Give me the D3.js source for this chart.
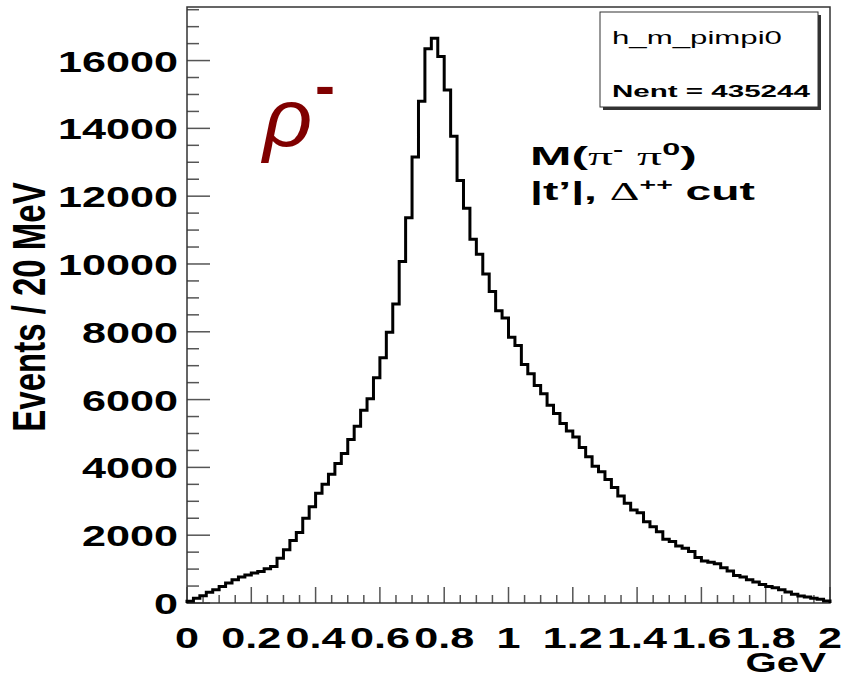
<!DOCTYPE html>
<html>
<head>
<meta charset="utf-8">
<script src="https://cdn.jsdelivr.net/npm/d3@7"></script>
<style>
  body { margin: 0; background: #fff; }
  text { font-family: "Liberation Sans", Arial, sans-serif; }
</style>
</head>
<body>
<svg id="canvas" width="848" height="678"></svg>
<script>
// histogram h_m_pimpi0, 100 bins of 20 MeV from 0 to 2 GeV
let counts = [
    50, 137, 216, 314, 392, 490, 588, 686, 764, 823,
    882, 931, 1009, 1078, 1323, 1568, 1842, 2078, 2499, 2842,
    3240, 3500, 3800, 4116, 4410, 4822, 5213, 5683, 6027, 6644,
    7232, 7985, 8820, 10072, 11366, 13159, 14797, 16346, 16659, 16120,
    15130, 13768, 12466, 11642, 10731, 10290, 9702, 9190, 8623, 8408,
    7838, 7594, 7036, 6762, 6418, 6174, 5830, 5586, 5292, 5070,
    4899, 4586, 4311, 4037, 3870, 3646, 3410, 3155, 2940, 2743,
    2664, 2400, 2252, 2105, 1882, 1811, 1685, 1617, 1517, 1340,
    1240, 1205, 1156, 1039, 941, 813, 764, 686, 617, 549,
    490, 451, 392, 323, 255, 206, 176, 137, 108, 59
];
let xRange = [0, 2];
let yMax = 17580;
let xTickLabels = [0, 0.2, 0.4, 0.6, 0.8, 1, 1.2, 1.4, 1.6, 1.8, 2];
let yTickLabels = [0, 2000, 4000, 6000, 8000, 10000, 12000, 14000, 16000];
let statName = 'h_m_pimpi0';
let statEntries = 'Nent = 435244';

let canvas = d3.select('#canvas');

let frameL = 187, frameR = 830, frameT = 7, frameB = 603;

let xScale = d3.scaleLinear().domain(xRange).range([frameL, frameR]);
let yScale = d3.scaleLinear().domain([0, yMax]).range([frameB, frameT]);

let binWidth = (xRange[1] - xRange[0]) / counts.length;

// fit a text element to a given width by squeezing/stretching it in x
let fitText = (sel, x, y, width, anchor) => {
    let len = sel.node().getComputedTextLength();
    let s = width / len;
    sel.attr('text-anchor', anchor || 'start')
        .attr('transform', 'translate(' + x + ',' + y + ') scale(' + s + ',1)');
    return s;
};

// ticks
let tickColor = '#555';
let xMinor = d3.range(0, 2.0001, 0.05);
canvas.append('g').selectAll('line')
    .data(xMinor)
    .enter()
    .append('line')
    .attr('x1', d => xScale(d))
    .attr('x2', d => xScale(d))
    .attr('y1', frameB)
    .attr('y2', (d, i) => i % 4 === 0 ? frameB - 16 : frameB - 8)
    .attr('stroke', tickColor)
    .attr('stroke-width', 1.5);

let yMinor = d3.range(0, yMax, 500);
canvas.append('g').selectAll('line')
    .data(yMinor)
    .enter()
    .append('line')
    .attr('y1', d => yScale(d))
    .attr('y2', d => yScale(d))
    .attr('x1', frameL)
    .attr('x2', (d, i) => i % 4 === 0 ? frameL + 23 : frameL + 12)
    .attr('stroke', tickColor)
    .attr('stroke-width', 1.5);

// frame
canvas.append('rect')
    .attr('x', frameL)
    .attr('y', frameT)
    .attr('width', frameR - frameL)
    .attr('height', frameB - frameT)
    .attr('fill', 'none')
    .attr('stroke', '#333')
    .attr('stroke-width', 1.5);

// histogram outline
let pts = [[xScale(0), yScale(0)]];
counts.forEach((c, i) => {
    pts.push([xScale(i * binWidth), yScale(c)]);
    pts.push([xScale((i + 1) * binWidth), yScale(c)]);
});
pts.push([xScale(2), yScale(0)]);

canvas.append('path')
    .attr('d', d3.line()(pts))
    .attr('fill', 'none')
    .attr('stroke', '#000')
    .attr('stroke-width', 3)
    .attr('stroke-linejoin', 'miter');

// tick labels
let labelFont = 29;
let probe = canvas.append('text')
    .attr('font-size', labelFont)
    .attr('font-weight', 'bold')
    .text('16000');
let labelScale = fitText(probe, 0, 0, 120, 'end');
probe.remove();

canvas.append('g').selectAll('text')
    .data(yTickLabels)
    .enter()
    .append('text')
    .attr('font-size', labelFont)
    .attr('font-weight', 'bold')
    .attr('text-anchor', 'end')
    .attr('transform', d => 'translate(178,' + (yScale(d) + 11) + ') scale(' + labelScale + ',1)')
    .text(d => d);

canvas.append('g').selectAll('text')
    .data(xTickLabels)
    .enter()
    .append('text')
    .attr('font-size', labelFont)
    .attr('font-weight', 'bold')
    .attr('text-anchor', 'middle')
    .attr('transform', d => 'translate(' + xScale(d) + ',648) scale(' + labelScale + ',1)')
    .text(d => d);

// axis titles
canvas.append('text')
    .attr('font-size', 27)
    .attr('font-weight', 'bold')
    .attr('text-anchor', 'end')
    .attr('transform', 'translate(826,672) scale(' + labelScale + ',1)')
    .text('GeV');

canvas.append('text')
    .attr('font-size', 33)
    .attr('font-weight', 'bold')
    .attr('text-anchor', 'middle')
    .attr('transform', 'translate(45,307) scale(1.4,1) rotate(-90)')
    .text('Events / 20 MeV');

// stat box
canvas.append('rect')
    .attr('x', 603).attr('y', 15)
    .attr('width', 218).attr('height', 95)
    .attr('fill', '#333');
canvas.append('rect')
    .attr('x', 600).attr('y', 12)
    .attr('width', 218).attr('height', 95)
    .attr('fill', '#fff')
    .attr('stroke', '#333')
    .attr('stroke-width', 1);

let nameText = canvas.append('text')
    .attr('font-size', 18)
    .text(statName);
fitText(nameText, 612, 44, 170);

let entText = canvas.append('text')
    .attr('font-size', 17)
    .attr('font-weight', 'bold')
    .text(statEntries);
fitText(entText, 612, 97, 198);

// rho label
canvas.append('text')
    .attr('font-family', '"Liberation Serif", serif')
    .attr('font-style', 'italic')
    .attr('font-size', 82)
    .attr('fill', '#800000')
    .attr('transform', 'translate(263,146) scale(1.05,1)')
    .text('ρ');
canvas.append('text')
    .attr('font-size', 60)
    .attr('font-weight', 'bold')
    .attr('fill', '#800000')
    .attr('transform', 'translate(315,106)')
    .text('-');

// selection text
let sel1 = canvas.append('text')
    .attr('font-size', 26)
    .attr('font-weight', 'bold');
sel1.append('tspan').text('M(');
sel1.append('tspan').attr('font-family', '"Liberation Serif", serif').attr('font-weight', 'normal').text('π');
sel1.append('tspan').attr('font-size', 16).attr('dy', -10).text('-');
sel1.append('tspan').attr('dy', 10).text(' ');
sel1.append('tspan').attr('font-family', '"Liberation Serif", serif').attr('font-weight', 'normal').text('π');
sel1.append('tspan').attr('font-size', 17).attr('dy', -10).text('0');
sel1.append('tspan').attr('dy', 10).text(')');
fitText(sel1, 530, 165, 167);

let sel2 = canvas.append('text')
    .attr('font-size', 26)
    .attr('font-weight', 'bold');
sel2.append('tspan').text('|t’|, ');
sel2.append('tspan').attr('font-family', '"Liberation Serif", serif').attr('font-weight', 'normal').text('Δ');
sel2.append('tspan').attr('font-size', 16).attr('dy', -10).text('++');
sel2.append('tspan').attr('dy', 10).text(' cut');
fitText(sel2, 530, 200, 225);
</script>
</body>
</html>
